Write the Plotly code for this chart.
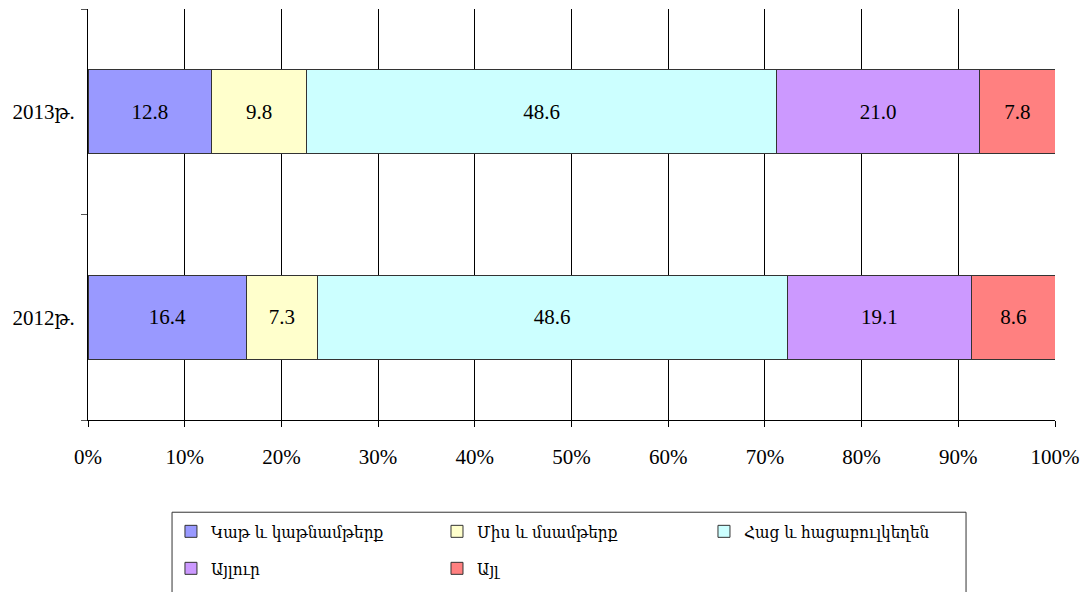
import plotly.graph_objects as go

years = ["2012թ.", "2013թ."]
groups = ["Կաթ և կաթնամթերք", "Միս և մսամթերք", "Հաց և հացաբուլկեղեն", "Այլուր", "Այլ"]
values = {
    "Կաթ և կաթնամթերք": [16.4, 12.8],
    "Միս և մսամթերք": [7.3, 9.8],
    "Հաց և հացաբուլկեղեն": [48.6, 48.6],
    "Այլուր": [19.1, 21.0],
    "Այլ": [8.6, 7.8],
}
colors = ["#9999FF", "#FFFFCC", "#CCFFFF", "#CC99FF", "#FF8080"]

serif = "Liberation Serif, Times New Roman, DejaVu Serif Condensed, serif"
legend_font = dict(family="DejaVu Serif Condensed, DejaVu Serif", size=17, color="black")

# one small legend per entry so the columns sit where the original has them
legend_ids = ["legend", "legend2", "legend3", "legend4", "legend5"]
legend_pos = [(0.0858, -0.272), (0.3609, -0.272), (0.637, -0.272),
              (0.0858, -0.362), (0.3609, -0.362)]

fig = go.Figure()
for name, col, lid in zip(groups, colors, legend_ids):
    fig.add_trace(go.Bar(
        y=years, x=values[name], name=name, orientation="h", legend=lid,
        marker=dict(color=col, line=dict(color="#333333", width=1)),
        texttemplate="%{x:.1f}", textposition="inside", insidetextanchor="middle",
        textfont=dict(family=serif, size=21, color="black"),
        hoverinfo="x+name",
    ))

legends = {}
for lid, (lx, ly) in zip(legend_ids, legend_pos):
    legends[lid] = dict(
        orientation="h", x=lx, y=ly, xanchor="left", yanchor="middle",
        bgcolor="rgba(0,0,0,0)", borderwidth=0, font=legend_font,
        itemwidth=30, itemclick=False, itemdoubleclick=False,
    )

fig.update_layout(
    barmode="stack", bargap=0.591,
    width=1084, height=584,
    margin=dict(l=80, r=37, t=1, b=172, autoexpand=False),
    plot_bgcolor="white", paper_bgcolor="white",
    font=dict(family=serif, size=21, color="black"),
    showlegend=True,
    **legends,
)

# legend frame
fig.add_shape(type="rect", xref="paper", yref="paper",
              x0=0.0869, x1=0.908, y0=-0.2244, y1=-0.5,
              line=dict(color="#333333", width=1), fillcolor="rgba(0,0,0,0)", layer="below")

fig.update_xaxes(
    range=[0, 100], dtick=10, ticksuffix="%", showgrid=True, gridcolor="black",
    gridwidth=1, showline=True, linecolor="black", ticks="outside", ticklen=6,
    tickcolor="black", zeroline=False, tickfont=dict(size=21), fixedrange=True,
    ticklabelstandoff=12,
)
fig.update_yaxes(
    type="category", tickson="boundaries", ticks="outside", ticklen=6,
    tickcolor="#555555", showline=True, linecolor="black", showgrid=False,
    tickfont=dict(size=21), fixedrange=True, ticklabelstandoff=8,
)

fig.write_html("out.html")
